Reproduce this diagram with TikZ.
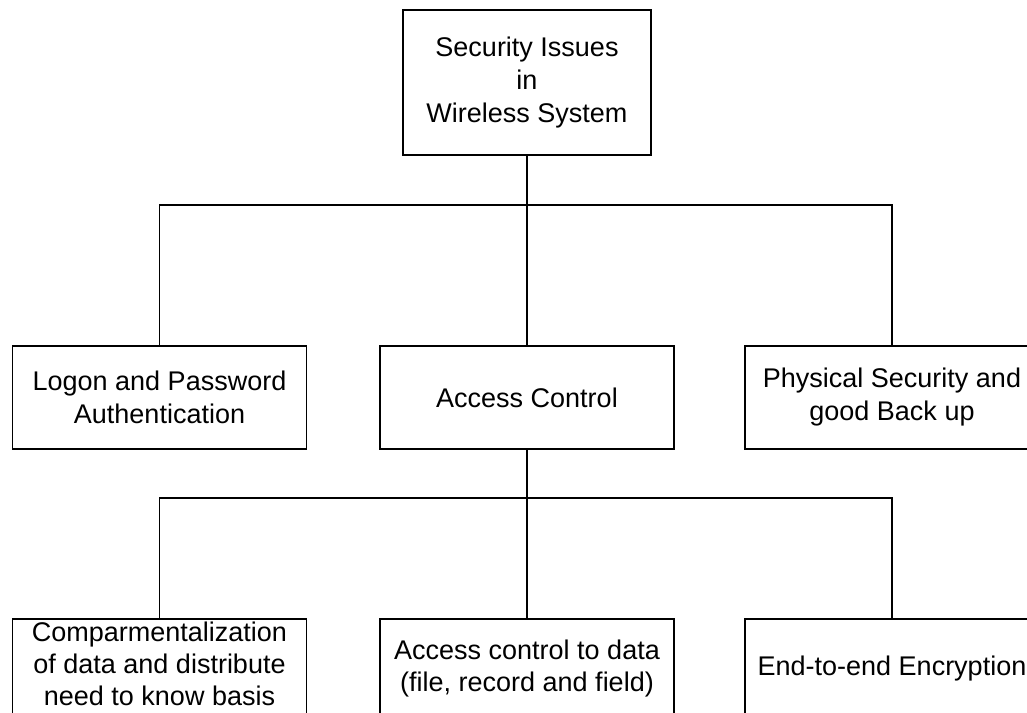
\documentclass[tikz,border=0pt]{standalone}
\usepackage{fontspec}
\setmainfont{Liberation Sans}
\usepackage{tikz}

\begin{document}
\begin{tikzpicture}[x=1pt, y=-1pt, line width=1.8pt,
    issue/.style={draw, rectangle, align=center, minimum width=294pt, minimum height=103pt,
        font=\fontsize{27}{33}\selectfont},
    subissue/.style={issue, minimum height=100pt, font=\fontsize{27}{32}\selectfont}]
    \useasboundingbox (0,0) rectangle (1027,712);

    \node[draw, rectangle, align=center, minimum width=248pt, minimum height=145pt,
        font=\fontsize{27}{33}\selectfont] (security) at (527,82.5) {Security Issues\\in\\Wireless System};

    \node[issue] (logon) at (159.5,397.5) {Logon and Password\\Authentication};
    \node[issue] (access) at (527,397.5) {Access Control};
    \node[issue] (physical) at (892,397.5) {Physical Security and\\good Back up};

    \node[subissue, inner ysep=0pt, text depth=10pt] (compart) at (159.5,669) {Comparmentalization\\of data and distribute\\need to know basis};
    \node[subissue] (accdata) at (527,669) {Access control to data\\(file, record and field)};
    \node[subissue] (encrypt) at (892,669) {End-to-end Encryption};

    \draw (security.south) -- ++(0,49) coordinate (split1);
    \draw (logon.north) |- (split1) -| (physical.north);
    \draw (split1) -- (access.north);

    \draw (access.south) -- ++(0,48) coordinate (split2);
    \draw (compart.north) |- (split2) -| (encrypt.north);
    \draw (split2) -- (accdata.north);
\end{tikzpicture}
\end{document}
